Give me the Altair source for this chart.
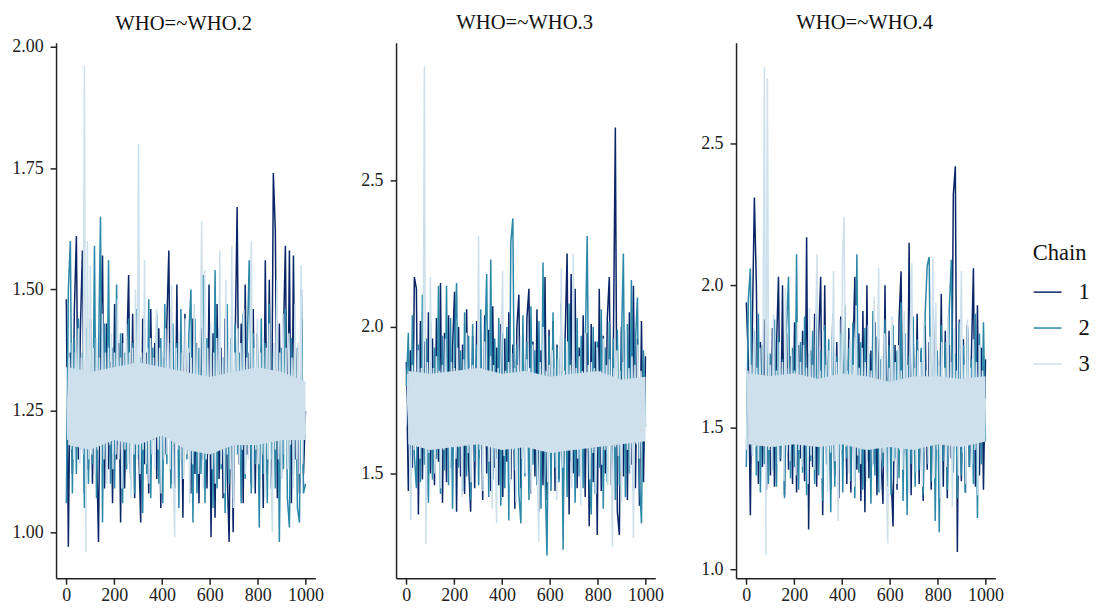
import altair as alt
import pandas as pd

FONT = "Liberation Serif"
COLORS = ["#0a2668", "#2b88a8", "#cde0ec"]
WIDTHS = [1.5, 1.5, 1.5]
CHAINS = ["1", "2", "3"]
X_TICKS = [0, 200, 400, 600, 800, 1000]
BAND_ITER = [8, 100, 200, 300, 400, 500, 600, 700, 800, 900, 1000]

who2_lo = [1.18,1.17,1.19,1.18,1.20,1.17,1.16,1.18,1.18,1.19,1.19]
who2_hi = [1.34,1.33,1.34,1.35,1.34,1.33,1.32,1.33,1.34,1.33,1.31]
who3_lo = [1.60,1.58,1.59,1.60,1.58,1.59,1.57,1.58,1.59,1.60,1.61]
who3_hi = [1.85,1.84,1.85,1.86,1.84,1.85,1.83,1.84,1.85,1.82,1.83]
who4_lo = [1.44,1.43,1.44,1.43,1.44,1.42,1.43,1.42,1.44,1.43,1.45]
who4_hi = [1.69,1.68,1.69,1.67,1.69,1.68,1.66,1.68,1.68,1.67,1.68]

who2_c1 = [
    1.48,0.97,1.37,1.12,1.46,1.61,1.15,1.42,1.58,1.08,1.36,1.13,
    1.44,1.10,1.38,1.18,0.98,1.40,1.57,1.09,1.43,1.13,1.35,1.06,
    1.47,1.15,1.39,1.02,1.41,1.09,1.36,1.53,1.12,1.45,1.07,1.38,
    1.18,1.02,1.44,1.14,1.37,1.08,1.46,1.19,1.39,1.11,1.42,1.05,
    1.36,1.16,1.43,1.58,1.10,1.38,1.09,1.51,1.14,1.40,1.03,1.45,
    1.17,1.37,1.08,1.44,1.12,1.39,1.06,1.42,1.15,1.36,1.09,1.51,
    0.99,1.41,1.03,1.47,1.11,1.38,1.07,1.44,1.13,0.98,1.40,1.00,
    1.39,1.67,1.14,1.43,1.06,1.51,1.16,1.37,1.10,1.46,1.08,1.41,
    1.18,1.38,1.05,1.56,1.12,1.52,1.09,1.74,1.62,1.07,1.43,1.11,
    1.40,1.59,1.13,1.58,1.06,1.57,1.15,1.38,1.08,1.44,1.12,1.25,
]
who2_c2 = [
    1.06,1.50,1.60,1.08,1.40,1.12,1.44,1.17,1.37,1.05,1.42,1.10,
    1.39,1.14,1.59,1.07,1.36,1.65,1.02,1.43,1.15,1.56,1.10,1.38,
    1.09,1.51,1.18,1.41,1.06,1.37,1.13,1.44,1.11,1.39,1.08,1.46,
    1.16,1.36,1.04,1.42,1.12,1.48,1.07,1.38,1.17,1.45,1.10,1.40,
    1.06,1.47,1.14,1.37,1.09,1.43,1.18,1.39,1.05,1.46,1.11,1.36,
    1.15,1.41,1.50,1.02,1.44,1.08,1.38,1.12,1.53,1.06,1.40,1.16,
    1.37,1.05,1.54,1.09,1.42,1.13,1.36,1.04,1.47,1.10,1.39,1.07,
    1.43,1.16,1.37,1.06,1.45,1.11,1.38,1.56,1.08,1.41,1.14,1.36,
    1.01,1.44,1.12,1.39,1.06,1.47,1.15,1.37,1.09,1.42,0.98,1.38,
    1.13,1.46,1.07,1.01,1.40,1.12,1.36,1.05,1.02,1.50,1.08,1.10,
]
who2_c3 = [
    1.34,1.19,1.36,1.17,1.39,1.15,1.37,1.18,1.42,1.14,1.36,1.16,1.96,0.96,1.60,1.15,
    1.55,1.16,1.38,1.12,1.40,1.17,1.36,1.14,1.45,1.15,1.37,1.10,1.38,1.18,1.41,1.13,
    1.37,1.16,1.48,1.15,1.36,1.09,1.39,1.17,1.43,1.14,1.37,1.07,1.38,1.16,1.50,1.15,
    1.80,1.12,1.37,1.17,1.56,1.14,1.38,1.10,1.40,1.16,1.36,1.13,1.46,1.17,1.38,1.08,
    1.37,1.15,1.42,1.16,1.39,1.13,1.51,1.12,0.99,1.38,1.17,1.41,1.15,1.37,1.11,1.44,
    1.16,1.38,1.06,1.36,1.14,1.47,1.17,1.39,1.12,1.37,1.64,1.09,1.54,1.15,1.38,1.16,
    1.43,1.13,1.37,1.10,1.40,1.17,1.58,1.14,1.36,1.08,1.52,1.16,1.38,1.13,1.59,1.05,
    1.37,1.16,1.42,1.14,1.39,1.17,1.46,1.12,1.36,1.15,1.41,1.60,1.09,1.38,1.17,1.44,
    1.14,1.37,1.16,1.40,1.07,1.38,1.15,1.43,1.13,1.00,1.39,1.17,1.52,1.15,1.37,1.11,
    1.45,1.16,1.38,1.13,1.41,1.18,1.36,1.09,1.47,1.15,1.39,1.12,1.55,1.14,1.30,1.20,
]
who3_c1 = [
    1.88,1.44,1.92,1.52,2.17,2.13,1.36,2.02,1.48,1.95,1.42,2.05,
    1.50,1.96,1.46,2.03,1.54,2.15,1.40,1.98,1.47,2.04,1.52,1.93,
    2.12,1.37,2.00,1.49,1.94,1.43,2.06,1.53,1.37,1.97,1.45,2.02,
    1.55,1.92,1.41,2.04,1.50,1.99,1.44,2.07,1.52,1.93,1.46,2.01,
    1.42,1.96,1.54,2.05,1.48,1.94,1.38,2.00,2.11,1.45,1.97,1.51,
    2.03,2.13,1.43,1.95,1.49,2.06,1.37,1.92,1.46,2.17,1.41,1.99,
    1.53,2.02,1.44,1.94,1.48,2.08,1.40,1.96,2.25,1.36,2.18,1.50,
    2.13,1.45,1.93,1.52,2.04,1.42,1.98,1.32,2.01,1.47,1.95,1.29,
    2.13,1.44,1.97,1.50,2.03,2.17,1.46,1.92,2.68,1.37,1.29,2.00,
    1.49,1.94,1.41,2.05,1.53,2.14,1.45,1.96,1.39,2.02,1.47,1.90,
]
who3_c2 = [
    1.80,1.98,1.50,2.04,1.56,1.45,1.94,1.47,2.11,1.53,1.96,1.40,
    2.02,1.48,1.93,1.55,2.14,1.43,1.97,1.51,2.14,1.46,2.03,1.38,
    1.95,2.15,1.52,1.92,1.44,2.05,1.49,1.97,1.41,2.01,1.54,1.94,
    1.46,2.06,1.50,1.93,2.18,1.42,2.23,1.48,1.96,1.55,2.03,1.39,
    1.98,1.45,2.00,1.34,2.29,2.37,1.51,1.94,1.43,1.33,2.04,1.49,
    1.95,1.41,2.07,1.53,1.92,1.46,2.02,1.38,2.22,1.50,1.22,1.97,
    1.44,2.05,1.52,1.93,1.47,2.01,1.24,1.96,1.42,2.08,1.54,1.94,
    1.40,2.03,1.49,1.97,1.45,1.92,2.31,1.51,1.36,2.00,1.43,1.95,
    1.52,2.06,1.38,1.93,1.47,2.02,1.55,1.96,1.41,1.99,1.46,1.94,
    2.25,1.42,2.01,1.50,2.16,1.44,1.95,2.10,1.48,1.33,1.92,1.66,
]
who3_c3 = [
    1.66,1.84,1.60,1.34,1.87,1.58,1.85,1.62,1.92,1.55,1.86,1.60,2.89,1.26,1.88,1.57,
    2.17,1.59,1.86,1.50,1.90,1.61,1.85,1.45,1.87,1.58,1.96,1.60,1.84,1.48,1.88,1.62,
    1.86,1.55,1.93,1.59,1.85,1.42,1.89,1.61,1.98,1.57,1.86,1.47,1.87,1.60,1.84,1.52,
    2.31,1.58,1.86,1.44,1.95,1.60,1.85,1.54,1.90,1.38,1.87,1.59,1.33,1.86,1.61,1.93,
    2.19,1.56,1.85,1.60,1.88,1.46,1.91,1.58,1.86,1.40,1.87,1.61,1.97,1.55,1.85,1.50,
    1.89,1.59,1.86,1.43,1.94,1.60,1.84,1.56,1.27,1.88,1.58,2.00,1.61,1.85,1.47,1.87,
    1.59,1.92,1.57,1.86,1.41,1.89,1.60,2.20,1.52,1.85,1.61,1.95,1.58,1.87,1.45,2.25,
    1.60,1.86,1.55,1.90,1.39,1.85,1.62,1.98,1.59,1.87,1.48,1.88,1.57,1.86,1.43,1.93,
    1.61,1.85,1.53,1.96,1.58,1.87,1.46,1.89,1.60,1.25,1.86,1.59,1.92,1.56,1.85,1.40,
    1.88,1.61,1.99,1.58,1.86,1.50,1.90,1.28,1.87,1.60,1.94,1.55,1.85,1.62,1.80,1.66,
]
who4_c1 = [
    1.94,1.74,1.19,1.86,2.31,2.00,1.30,1.80,1.36,1.88,1.28,1.76,
    1.33,1.85,1.29,1.78,2.03,1.38,2.00,1.26,1.83,1.35,1.75,1.30,
    1.87,1.27,1.79,1.39,1.84,1.31,2.17,1.14,1.77,1.36,1.90,1.29,
    1.82,2.03,1.19,2.00,1.37,1.76,1.28,1.86,1.33,1.80,1.25,1.89,
    1.38,1.78,1.30,1.85,1.27,1.74,2.03,1.35,1.83,1.24,1.91,1.20,
    2.00,1.32,1.77,1.37,1.87,1.26,1.81,1.39,1.23,2.00,1.29,1.84,
    1.34,1.15,1.79,1.28,1.88,2.05,1.36,1.75,1.31,2.15,1.26,1.83,
    1.38,1.90,1.30,1.77,1.24,1.86,1.35,1.80,1.28,1.92,1.33,1.76,
    1.37,1.97,1.29,1.84,1.25,1.79,1.39,2.32,2.42,1.06,1.88,1.31,
    1.81,1.27,1.86,1.36,1.75,2.06,1.29,1.93,1.33,1.78,1.28,1.74,
]
who4_c2 = [
    1.36,1.95,2.06,1.40,1.84,1.33,1.90,1.27,1.79,1.37,1.86,1.30,
    1.76,1.35,1.88,1.29,1.82,1.39,1.74,1.25,1.85,2.03,1.32,1.78,
    1.36,2.11,1.28,1.80,1.34,1.89,1.26,1.76,1.38,1.84,1.30,1.92,
    1.33,1.77,1.24,1.86,1.37,1.81,1.20,1.90,1.29,1.75,1.35,1.83,
    1.27,1.93,1.39,1.78,1.31,1.87,1.25,2.11,1.34,1.80,1.28,1.85,
    1.38,1.76,1.23,1.91,1.33,1.82,1.27,1.74,1.36,1.88,1.30,1.79,
    1.26,1.86,1.39,1.77,1.32,1.94,1.24,1.83,1.19,1.75,1.37,1.89,
    1.29,1.81,1.35,1.78,1.26,1.90,2.07,2.10,1.31,1.84,1.17,1.77,
    1.13,1.86,1.38,1.80,1.28,1.92,2.09,1.34,1.76,1.25,1.87,1.33,
    1.79,1.27,1.85,1.36,1.74,1.30,1.90,1.18,1.83,1.37,1.87,1.45,
]
who4_c3 = [
    1.42,1.70,1.45,1.72,1.40,1.85,1.43,1.71,1.38,1.78,1.44,1.70,2.77,1.05,2.73,1.42,
    1.72,1.34,1.90,1.43,1.70,1.37,1.80,1.45,1.73,1.31,1.99,1.41,1.71,1.38,1.76,1.44,
    1.70,1.33,1.87,1.42,1.73,1.36,1.79,1.45,1.71,1.30,1.92,1.40,1.72,1.35,1.82,2.11,
    1.43,1.70,1.32,1.84,1.44,1.72,1.27,1.77,1.41,1.71,2.05,1.38,1.73,1.17,1.88,1.42,
    2.10,2.24,1.43,1.70,1.34,1.81,1.45,1.72,1.29,1.93,1.40,1.71,1.37,1.78,1.44,1.73,
    1.31,1.86,1.42,1.70,1.36,1.96,1.43,1.72,2.06,1.28,1.75,1.41,1.83,1.33,1.09,1.71,
    1.44,1.89,1.38,1.73,1.30,1.79,1.42,1.70,1.35,1.91,1.45,1.72,1.27,1.84,2.08,1.40,
    1.71,1.34,1.77,1.43,1.73,1.29,1.87,1.41,1.70,1.37,1.82,1.44,2.10,1.32,1.94,1.42,
    1.72,1.25,1.80,1.45,1.71,1.36,1.90,1.40,1.73,1.22,1.85,1.43,1.70,1.33,1.76,2.05,
    1.41,1.72,1.30,1.88,1.44,1.71,1.37,1.81,1.42,1.73,1.26,1.79,1.45,1.70,1.46,1.60,
]

panels = [
    ("WHO=~WHO.2", [0.9055, 2.008], [1.0, 1.25, 1.5, 1.75, 2.0], ".2f", who2_c1, who2_c2, who2_c3, who2_lo, who2_hi, 6, -2),
    ("WHO=~WHO.3", [1.143, 2.969], [1.5, 2.0, 2.5], ".1f", who3_c1, who3_c2, who3_c3, who3_lo, who3_hi, 0, -1),
    ("WHO=~WHO.4", [0.968, 2.855], [1.0, 1.5, 2.0, 2.5], ".1f", who4_c1, who4_c2, who4_c3, who4_lo, who4_hi, 0, -1),
]


def panel(title, dom, ticks, fmt, c1, c2, c3, lo, hi, dy, dx):
    rows = []
    for name, vals in zip(CHAINS, (c1, c2, c3)):
        n = len(vals)
        for i, v in enumerate(vals):
            rows.append({"iter": i * 1000 / (n - 1), "value": v, "Chain": name})
    df = pd.DataFrame(rows)
    band = pd.DataFrame({"iter": BAND_ITER, "lo": lo, "hi": hi})
    x_scale = alt.Scale(domain=[-43, 1041], nice=False, zero=False)
    y_scale = alt.Scale(domain=dom, nice=False, zero=False)
    x_axis = alt.Axis(title=None, values=X_TICKS, format="d", grid=False, tickSize=6, labelPadding=2)
    y_axis = alt.Axis(title=None, values=ticks, format=fmt, grid=False, tickSize=6, labelPadding=7)
    lines = alt.Chart(df).mark_line().encode(
        x=alt.X("iter:Q", scale=x_scale, axis=x_axis),
        y=alt.Y("value:Q", scale=y_scale, axis=y_axis),
        color=alt.Color("Chain:N", scale=alt.Scale(domain=CHAINS, range=COLORS),
                        legend=alt.Legend(title="Chain", orient="none", legendX=979.5, legendY=200, symbolType="stroke",
                                          symbolSize=784, symbolStrokeWidth=1.5, labelFontSize=22.6, titleFontSize=22.6,
                                          labelFont=FONT, titleFont=FONT, titleFontWeight="normal", titleColor="#111111",
                                          labelColor="#111111", rowPadding=9, labelOffset=16, titlePadding=12.5)),
        strokeWidth=alt.StrokeWidth("Chain:N", scale=alt.Scale(domain=CHAINS, range=WIDTHS), legend=None),
    )
    fill = alt.Chart(band).mark_area(color=COLORS[2], opacity=1).encode(
        x=alt.X("iter:Q", scale=x_scale, axis=x_axis),
        y=alt.Y("lo:Q", scale=y_scale, axis=y_axis),
        y2="hi:Q",
    )
    return alt.layer(
        lines, fill,
        title=alt.TitleParams(title, font=FONT, fontSize=20.7, fontWeight="normal", color="#111111",
                              anchor="middle", offset=9, dy=dy, dx=dx),
    ).properties(width=260, height=537)


chart = alt.hconcat(
    *[panel(*p) for p in panels], spacing=81, bounds="flush",
    padding={"left": 3.2, "top": 3, "right": 0, "bottom": -4},
).configure_view(stroke=None).configure_axis(
    domainColor="#222222", tickColor="#222222", domainWidth=1.5, tickWidth=1.5,
    labelFont=FONT, labelFontSize=18, labelColor="#222222",
)
chart.save("out.html", embed_options={"renderer": "svg", "actions": False})
